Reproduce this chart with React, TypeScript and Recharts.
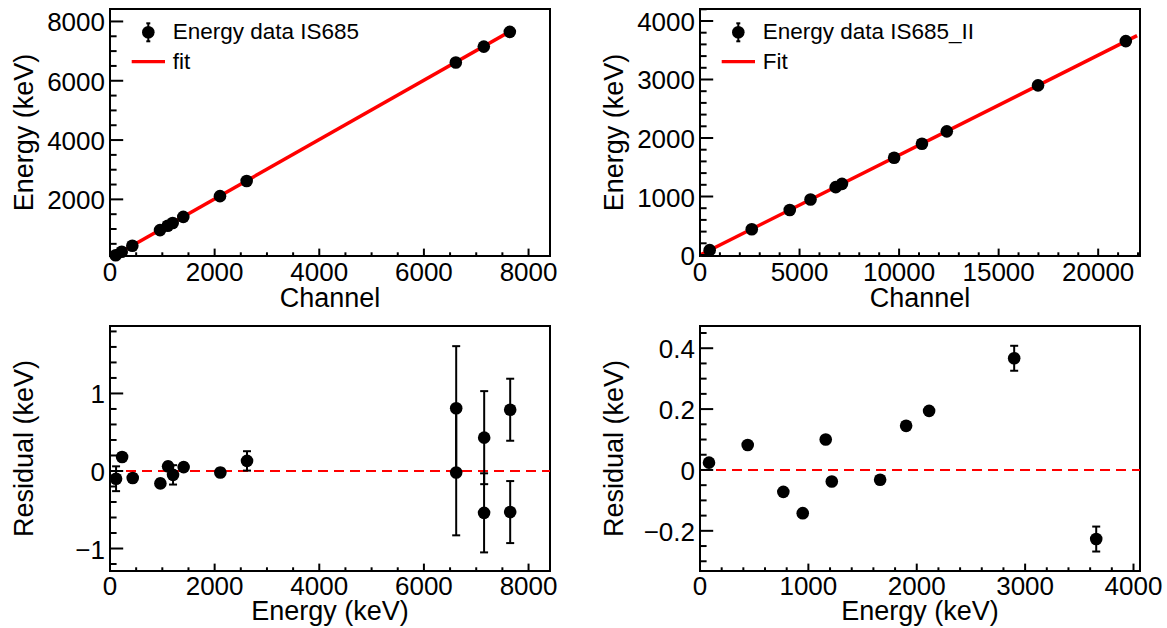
import React from 'react';
import {
  ComposedChart,
  Scatter,
  Line,
  XAxis,
  YAxis,
  ErrorBar,
  ReferenceLine,
  ReferenceArea,
  Legend,
  Label,
} from 'recharts';

const FONT = '"Liberation Sans", Arial, Helvetica, sans-serif';

// ---------------- Data: IS685 (top-left / bottom-left) ----------------
const channel1 = [108, 224, 427, 956, 1103, 1198, 1401, 2102, 2612, 6610, 7145, 7642];
const energy1 = [116, 231, 434, 963, 1110, 1205, 1408, 2109, 2619, 6617, 7152, 7649];
const fitChannel1 = [75, 7642];
const fitEnergy1 = [90, 7662];

const resEnergy1 = [116, 231, 434, 963, 1110, 1205, 1408, 2109, 2619, 6617, 6617, 7152, 7150, 7649, 7649];
const resValue1 = [-0.1, 0.18, -0.09, -0.16, 0.06, -0.05, 0.05, -0.02, 0.13, 0.81, -0.02, 0.43, -0.54, 0.79, -0.53];
const resError1 = [0.16, 0.05, 0.05, 0.05, 0.05, 0.125, 0.05, 0.05, 0.125, 0.8, 0.81, 0.6, 0.51, 0.4, 0.4];

// ---------------- Data: IS685_II (top-right / bottom-right) ----------------
const channel2 = [486, 2600, 4508, 5551, 6817, 7131, 9750, 11148, 12396, 16978, 21388];
const energy2 = [83, 440, 769, 948, 1160, 1216, 1662, 1902, 2114, 2899, 3656];
const fitChannel2 = [0, 21953];
const fitEnergy2 = [0, 3749];

const resEnergy2 = [83, 440, 769, 948, 1160, 1216, 1662, 1902, 2114, 2899, 3656];
const resValue2 = [0.024, 0.082, -0.072, -0.142, 0.1, -0.038, -0.032, 0.145, 0.194, 0.367, -0.227];
const resError2 = [0.01, 0.01, 0.01, 0.01, 0.01, 0.01, 0.01, 0.01, 0.01, 0.041, 0.041];

// ---------------- Axis ticks ----------------
const tlXMajor = [0, 2000, 4000, 6000, 8000];
const tlYMajor = [2000, 4000, 6000, 8000];
const trXMajor = [0, 5000, 10000, 15000, 20000];
const trYMajor = [0, 1000, 2000, 3000, 4000];
const blXMajor = [0, 2000, 4000, 6000, 8000];
const blYMajor = [-1, 0, 1];
const brXMajor = [0, 1000, 2000, 3000, 4000];
const brYMajor = [-0.2, 0, 0.2, 0.4];

// ---------------- Domains ----------------
const tlXDomain: [number, number] = [0, 8410];
const tlYDomain: [number, number] = [90, 8420];
const trXDomain: [number, number] = [0, 22100];
const trYDomain: [number, number] = [-17, 4205];
const blXDomain: [number, number] = [0, 8410];
const blYDomain: [number, number] = [-1.29, 1.87];
const brXDomain: [number, number] = [0, 4060];
const brYDomain: [number, number] = [-0.332, 0.473];

// ---------------- helpers ----------------
function buildTicks(domain: [number, number], majors: number[], step: number): number[] {
  const out: number[] = [];
  const start = Math.ceil(domain[0] / step - 1e-9);
  for (let i = start; i * step <= domain[1] + 1e-9; i++) {
    out.push(Math.round(i * step * 1e6) / 1e6);
  }
  majors.forEach((m) => {
    if (m >= domain[0] && m <= domain[1] && !out.some((v) => Math.abs(v - m) < 1e-9)) out.push(m);
  });
  return out.sort((a, b) => a - b);
}

function fmt(v: number): string {
  const s = String(Math.round(v * 1000) / 1000);
  return s.startsWith('-') ? '\u2212' + s.slice(1) : s;
}

const isMajor = (v: number, majors: number[]) => majors.some((m) => Math.abs(m - v) < 1e-9);

function XTick(props: any) {
  const { x, y, payload, majors, len, labelOffset } = props;
  if (x == null || y == null || !payload) return null;
  const v = payload.value as number;
  const major = isMajor(v, majors);
  return (
    <g>
      <line x1={x} x2={x} y1={y} y2={y - (major ? len : len / 2)} stroke="#000" strokeWidth={2} />
      {major && (
        <text x={x} y={y + labelOffset} textAnchor="middle" fontSize={26} fontFamily={FONT} fill="#000">
          {fmt(v)}
        </text>
      )}
    </g>
  );
}

function YTick(props: any) {
  const { x, y, payload, majors, len } = props;
  if (x == null || y == null || !payload) return null;
  const v = payload.value as number;
  const major = isMajor(v, majors);
  return (
    <g>
      <line x1={x} x2={x + (major ? len : len / 2)} y1={y} y2={y} stroke="#000" strokeWidth={2} />
      {major && (
        <text x={x - 5} y={y + 10} textAnchor="end" fontSize={26} fontFamily={FONT} fill="#000">
          {fmt(v)}
        </text>
      )}
    </g>
  );
}

function xTitle(text: string, offset: number) {
  return (p: any) => {
    const vb = p && p.viewBox;
    if (!vb) return null;
    return (
      <text x={vb.x + vb.width / 2} y={vb.y + offset} textAnchor="middle" fontSize={27} fontFamily={FONT} fill="#000">
        {text}
      </text>
    );
  };
}

function yTitle(text: string) {
  return (p: any) => {
    const vb = p && p.viewBox;
    if (!vb) return null;
    const x = vb.x + vb.width - 77;
    const y = vb.y + vb.height / 2;
    return (
      <text x={x} y={y} transform={`rotate(-90, ${x}, ${y})`} textAnchor="middle" fontSize={27} fontFamily={FONT} fill="#000">
        {text}
      </text>
    );
  };
}

function renderLegend(props: any) {
  const items: any[] = (props && props.payload) ? [...props.payload] : [];
  items.sort((a, b) => (a.type === 'line' ? 1 : 0) - (b.type === 'line' ? 1 : 0));
  return (
    <svg width={330} height={70} style={{ display: 'block', overflow: 'visible' }}>
      {items.map((e, i) => {
        const cy = 18.3 + i * 29.4;
        return (
          <g key={i}>
            {e.type === 'line' ? (
              <line x1={6.7} x2={40} y1={cy} y2={cy} stroke="#ff0000" strokeWidth={3.3} />
            ) : (
              <g>
                <line x1={23.3} x2={23.3} y1={cy - 9} y2={cy + 9} stroke="#000" strokeWidth={2} />
                <line x1={21.3} x2={25.3} y1={cy - 9} y2={cy - 9} stroke="#000" strokeWidth={2} />
                <line x1={21.3} x2={25.3} y1={cy + 9} y2={cy + 9} stroke="#000" strokeWidth={2} />
                <circle cx={23.3} cy={cy} r={6.3} fill="#000" />
              </g>
            )}
            <text x={47.7} y={cy + 7} fontSize={22.5} fontFamily={FONT} fill="#000">
              {e.value}
            </text>
          </g>
        );
      })}
    </svg>
  );
}

const dotShape = (p: any) => <circle cx={p.cx} cy={p.cy} r={6.3} fill="#000" />;

type CalibProps = {
  width: number;
  yAxisWidth: number;
  marginRight: number;
  legendLeft: number;
  chan: number[];
  en: number[];
  fitChan: number[];
  fitEn: number[];
  xDomain: [number, number];
  yDomain: [number, number];
  xMajor: number[];
  yMajor: number[];
  xStep: number;
  yStep: number;
  dataName: string;
  fitName: string;
};

function CalibChart(c: CalibProps) {
  const pts = c.chan.map((x, i) => ({ x, y: c.en[i] }));
  const fit = c.fitChan.map((x, i) => ({ x, y: c.fitEn[i] }));
  return (
    <ComposedChart width={c.width} height={314} margin={{ top: 9, right: c.marginRight, bottom: 0, left: 0 }}>
      <XAxis
        type="number"
        dataKey="x"
        domain={c.xDomain}
        ticks={buildTicks(c.xDomain, c.xMajor, c.xStep)}
        interval={0}
        tickLine={false}
        axisLine={false}
        tickSize={0}
        tickMargin={0}
        height={58}
        tick={(p: any) => <XTick {...p} majors={c.xMajor} len={7.4} labelOffset={25} />}
      >
        <Label content={xTitle('Channel', 51)} />
      </XAxis>
      <YAxis
        type="number"
        dataKey="y"
        domain={c.yDomain}
        ticks={buildTicks(c.yDomain, c.yMajor, c.yStep)}
        interval={0}
        tickLine={false}
        axisLine={false}
        tickSize={0}
        tickMargin={0}
        width={c.yAxisWidth}
        tick={(p: any) => <YTick {...p} majors={c.yMajor} len={13.2} />}
      >
        <Label content={yTitle('Energy (keV)')} />
      </YAxis>
      <ReferenceArea
        x1={c.xDomain[0]}
        x2={c.xDomain[1]}
        y1={c.yDomain[0]}
        y2={c.yDomain[1]}
        fill="none"
        fillOpacity={0}
        stroke="#000"
        strokeWidth={2}
        ifOverflow="visible"
      />
      <Scatter name={c.dataName} data={pts} legendType="circle" fill="#000" shape={dotShape} isAnimationActive={false} />
      <Line
        name={c.fitName}
        data={fit}
        dataKey="y"
        type="linear"
        stroke="#ff0000"
        strokeWidth={3.5}
        dot={false}
        activeDot={false}
        legendType="line"
        isAnimationActive={false}
      />
      <Legend
        layout="vertical"
        align="center"
        verticalAlign="middle"
        wrapperStyle={{ left: c.legendLeft, top: 14, width: 330 }}
        content={renderLegend}
      />
    </ComposedChart>
  );
}

type ResidProps = {
  width: number;
  yAxisWidth: number;
  marginRight: number;
  en: number[];
  res: number[];
  err: number[];
  xDomain: [number, number];
  yDomain: [number, number];
  xMajor: number[];
  yMajor: number[];
  xStep: number;
  yStep: number;
};

function ResidChart(c: ResidProps) {
  const pts = c.en.map((x, i) => ({ x, y: c.res[i], err: c.err[i] }));
  return (
    <ComposedChart width={c.width} height={314} margin={{ top: 12, right: c.marginRight, bottom: 0, left: 0 }}>
      <XAxis
        type="number"
        dataKey="x"
        domain={c.xDomain}
        ticks={buildTicks(c.xDomain, c.xMajor, c.xStep)}
        interval={0}
        tickLine={false}
        axisLine={false}
        tickSize={0}
        tickMargin={0}
        height={57}
        tick={(p: any) => <XTick {...p} majors={c.xMajor} len={7.4} labelOffset={24} />}
      >
        <Label content={xTitle('Energy (keV)', 49)} />
      </XAxis>
      <YAxis
        type="number"
        dataKey="y"
        domain={c.yDomain}
        ticks={buildTicks(c.yDomain, c.yMajor, c.yStep)}
        interval={0}
        tickLine={false}
        axisLine={false}
        tickSize={0}
        tickMargin={0}
        width={c.yAxisWidth}
        tick={(p: any) => <YTick {...p} majors={c.yMajor} len={13.2} />}
      >
        <Label content={yTitle('Residual (keV)')} />
      </YAxis>
      <ReferenceArea
        x1={c.xDomain[0]}
        x2={c.xDomain[1]}
        y1={c.yDomain[0]}
        y2={c.yDomain[1]}
        fill="none"
        fillOpacity={0}
        stroke="#000"
        strokeWidth={2}
        ifOverflow="visible"
      />
      <ReferenceLine y={0} stroke="#ff0000" strokeWidth={2} strokeDasharray="10 6" />
      <Scatter data={pts} fill="#000" shape={dotShape} isAnimationActive={false}>
        <ErrorBar dataKey="err" direction="y" width={4} stroke="#000" strokeWidth={2} />
      </Scatter>
    </ComposedChart>
  );
}

export default function App() {
  return (
    <div style={{ position: 'absolute', left: 0, top: 0, width: 1167, height: 628, background: '#fff', fontFamily: FONT }}>
      <div style={{ position: 'absolute', left: 0, top: 0 }}>
        <CalibChart
          width={583}
          yAxisWidth={110}
          marginRight={33}
          legendLeft={125}
          chan={channel1}
          en={energy1}
          fitChan={fitChannel1}
          fitEn={fitEnergy1}
          xDomain={tlXDomain}
          yDomain={tlYDomain}
          xMajor={tlXMajor}
          yMajor={tlYMajor}
          xStep={500}
          yStep={500}
          dataName="Energy data IS685"
          fitName="fit"
        />
      </div>
      <div style={{ position: 'absolute', left: 583, top: 0 }}>
        <CalibChart
          width={584}
          yAxisWidth={117}
          marginRight={27}
          legendLeft={132}
          chan={channel2}
          en={energy2}
          fitChan={fitChannel2}
          fitEn={fitEnergy2}
          xDomain={trXDomain}
          yDomain={trYDomain}
          xMajor={trXMajor}
          yMajor={trYMajor}
          xStep={1000}
          yStep={200}
          dataName="Energy data IS685_II"
          fitName="Fit"
        />
      </div>
      <div style={{ position: 'absolute', left: 0, top: 314 }}>
        <ResidChart
          width={583}
          yAxisWidth={110}
          marginRight={33}
          en={resEnergy1}
          res={resValue1}
          err={resError1}
          xDomain={blXDomain}
          yDomain={blYDomain}
          xMajor={blXMajor}
          yMajor={blYMajor}
          xStep={500}
          yStep={0.2}
        />
      </div>
      <div style={{ position: 'absolute', left: 583, top: 314 }}>
        <ResidChart
          width={584}
          yAxisWidth={117}
          marginRight={27}
          en={resEnergy2}
          res={resValue2}
          err={resError2}
          xDomain={brXDomain}
          yDomain={brYDomain}
          xMajor={brXMajor}
          yMajor={brYMajor}
          xStep={200}
          yStep={0.05}
        />
      </div>
    </div>
  );
}
